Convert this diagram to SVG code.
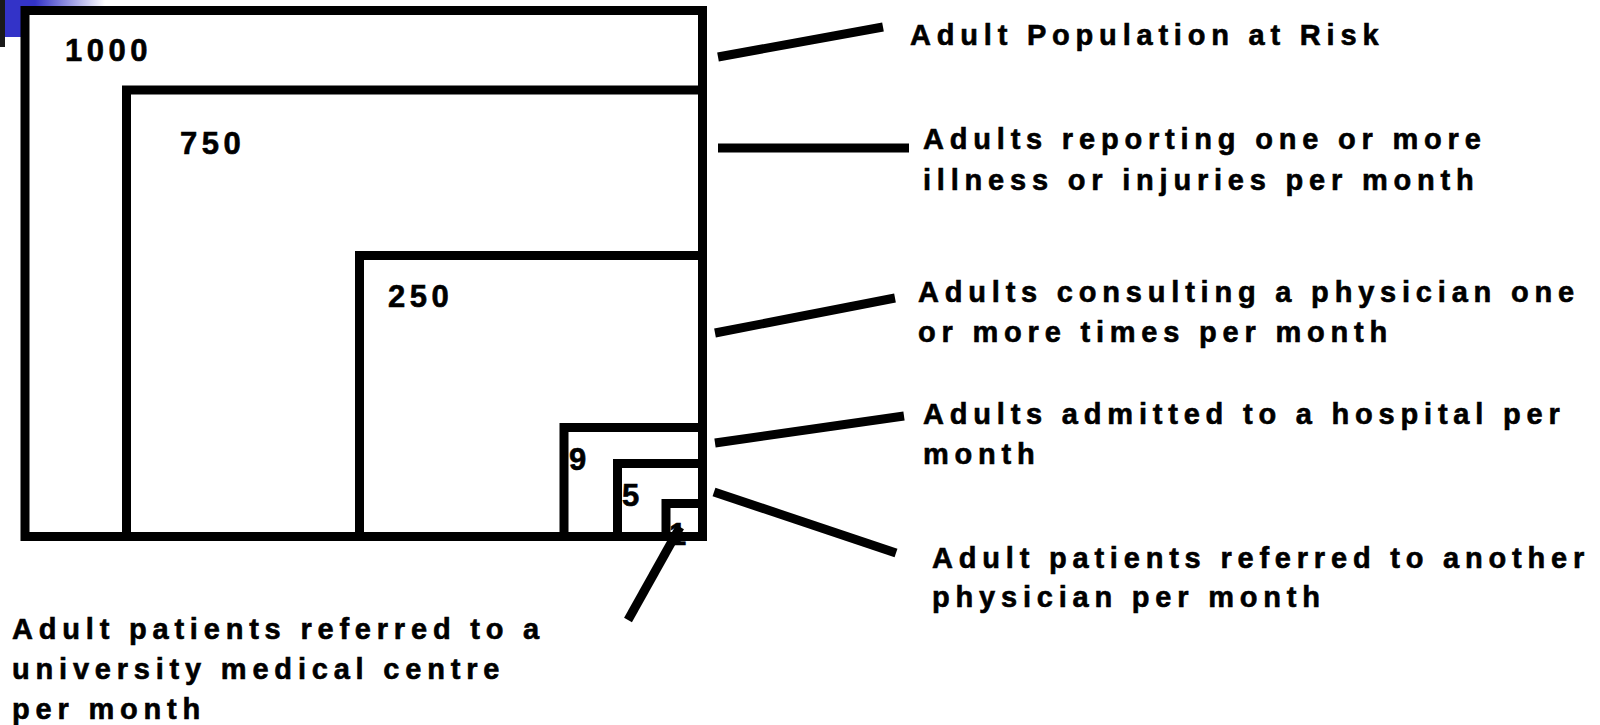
<svg xmlns="http://www.w3.org/2000/svg" width="1600" height="725" viewBox="0 0 1600 725">
<style>
.box{fill:none;stroke:#000;stroke-width:9}
.num{font-family:"Liberation Sans",Arial,sans-serif;font-weight:bold;font-size:31px;letter-spacing:4.5px;fill:#000;stroke:#000;stroke-width:0.6}
.lbl{font-family:"Liberation Sans",Arial,sans-serif;font-weight:bold;font-size:29px;letter-spacing:5.8px;fill:#000;stroke:#000;stroke-width:0.6}
.con{stroke:#000;stroke-width:9;fill:none}
</style>
<defs>
<linearGradient id="fade" x1="0" y1="0" x2="1" y2="0">
<stop offset="0" stop-color="#3333c8"/>
<stop offset="0.3" stop-color="#3333c8"/>
<stop offset="1" stop-color="#ffffff"/>
</linearGradient>
</defs>
<rect width="1600" height="725" fill="#fff"/>
<g id="corner">
<rect x="0" y="0" width="5" height="47" fill="#1a1a1a"/>
<rect x="5" y="0" width="20" height="37" fill="#3333c8"/>
<rect x="5" y="0" width="100" height="7" fill="url(#fade)"/>
</g>
<g id="n1000"><rect class="box" x="25" y="10.5" width="677.5" height="526"/><text class="num" x="65" y="61">1000</text></g>
<g id="n750"><rect class="box" x="126.5" y="90" width="576" height="446.5"/><text class="num" x="180" y="154">750</text></g>
<g id="n250"><rect class="box" x="359.5" y="255.5" width="343" height="281"/><text class="num" x="388" y="307">250</text></g>
<g id="n9"><rect class="box" x="564" y="427.5" width="138.5" height="109"/><text class="num" x="569" y="470">9</text></g>
<g id="n5"><rect class="box" x="617.5" y="463.5" width="85" height="73"/><text class="num" x="622" y="506">5</text></g>
<g id="n1"><rect class="box" x="666" y="503.5" width="36.5" height="33"/><text class="num" x="669" y="545">1</text></g>
<g id="connectors">
<line class="con" x1="718" y1="57" x2="883" y2="27"/>
<line class="con" x1="718" y1="148" x2="909" y2="148"/>
<line class="con" x1="715" y1="333" x2="895" y2="298"/>
<line class="con" x1="715" y1="443" x2="904" y2="416"/>
<line class="con" x1="714" y1="492" x2="896" y2="553"/>
<line class="con" x1="628" y1="620" x2="680" y2="527"/>
</g>
<g id="labels">
<text class="lbl" x="910" y="45">Adult Population at Risk</text>
<text class="lbl" x="923" y="149">Adults reporting one or more</text>
<text class="lbl" x="923" y="190">illness or injuries per month</text>
<text class="lbl" x="918" y="302">Adults consulting a physician one</text>
<text class="lbl" x="918" y="342">or more times per month</text>
<text class="lbl" x="923" y="424">Adults admitted to a hospital per</text>
<text class="lbl" x="923" y="464">month</text>
<text class="lbl" x="932" y="568" letter-spacing="5.6">Adult patients referred to another</text>
<text class="lbl" x="932" y="607">physician per month</text>
<text class="lbl" x="12" y="639" letter-spacing="5.5">Adult patients referred to a</text>
<text class="lbl" x="12" y="679" letter-spacing="5.6">university medical centre</text>
<text class="lbl" x="12" y="719">per month</text>
</g>
</svg>
